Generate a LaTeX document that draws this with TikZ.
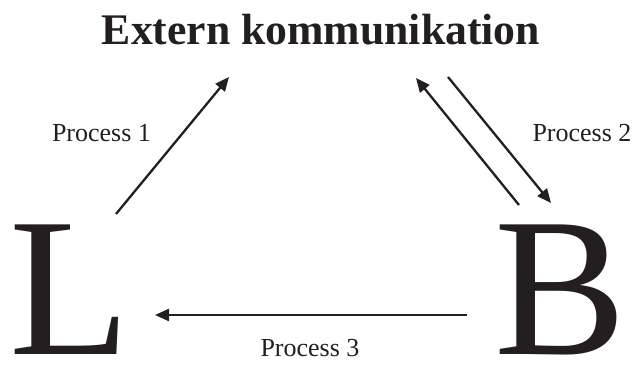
\documentclass[tikz,border=0pt]{standalone}
\usepackage{fontspec}
\setmainfont{Liberation Serif}
\usetikzlibrary{arrows.meta}
\definecolor{ink}{HTML}{231F20}
\begin{document}
\begin{tikzpicture}[x=1pt,y=1pt,
  arr/.style={draw=ink,line width=2.3pt,-{Triangle[length=14pt,width=12pt]}},
  lbl/.style={inner sep=0pt,anchor=base,text=ink,font=\fontsize{26}{28}\selectfont},
  big/.style={inner sep=0pt,anchor=base,text=ink,text depth=0pt,font=\fontsize{198}{200}\selectfont}]
\useasboundingbox (0,0) rectangle (641,365);
\node[inner sep=0pt,anchor=base,text=ink,font=\bfseries\fontsize{43.7}{46}\selectfont] (title) at (321,320) {Extern kommunikation};
\node[big] (L) at (69.5,11) {L};
\node[big] (B) at (561,11) {B};
\node[lbl] (p1) at (101.5,223) {Process 1};
\node[lbl] (p2) at (582,223) {Process 2};
\node[lbl] (p3) at (310,9) {Process 3};
\coordinate (a1s) at (116,151);
\coordinate (a1e) at (229,288);
\coordinate (a2s) at (519,160);
\coordinate (a2e) at (416,287);
\coordinate (a3s) at (448,288);
\coordinate (a3e) at (551,162);
\coordinate (a4s) at (467,50);
\coordinate (a4e) at (155,50);
\draw[arr] (a1s) -- (a1e);
\draw[arr] (a2s) -- (a2e);
\draw[arr] (a3s) -- (a3e);
\draw[arr] (a4s) -- (a4e);
\end{tikzpicture}
\end{document}
